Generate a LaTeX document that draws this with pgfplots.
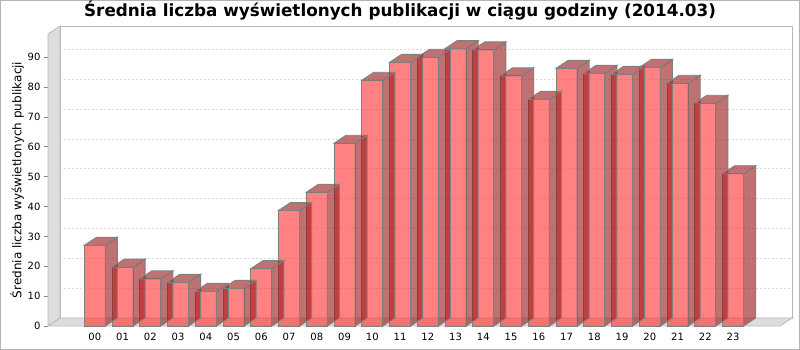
\documentclass[border=0pt]{standalone}
\usepackage{fontspec}
\setmainfont{DejaVu Sans}
\usepackage{pgfplots}
\usepackage{pgfplotstable}
\pgfplotsset{compat=1.18}
\definecolor{frontc}{RGB}{255,45,45}
\definecolor{sidec}{RGB}{150,20,20}
\definecolor{edgec}{RGB}{128,128,128}
\definecolor{wallc}{RGB}{221,221,221}
\definecolor{walledge}{RGB}{185,185,185}
\definecolor{gridc}{RGB}{218,218,218}
\definecolor{framec}{RGB}{180,180,180}

\pgfdeclareplotmark{box3d}{%
  \pgfsetfillopacity{0.6}%
  \pgfsetfillcolor{sidec}%
  \pgfsetstrokecolor{edgec}%
  \pgfsetlinewidth{0.9pt}%
  \pgfpathmoveto{\pgfqpoint{-10.5pt}{0pt}}%
  \pgfpathlineto{\pgfqpoint{10.5pt}{0pt}}%
  \pgfpathlineto{\pgfqpoint{22.5pt}{8pt}}%
  \pgfpathlineto{\pgfqpoint{1.5pt}{8pt}}%
  \pgfpathclose
  \pgfusepath{fill,stroke}%
  \pgfpathmoveto{\pgfqpoint{10.5pt}{0pt}}%
  \pgfpathlineto{\pgfqpoint{22.5pt}{8pt}}%
  \pgfpathlineto{\pgfpoint{22.5pt}{8pt-\pgfplotspointmetatransformed*2.9856pt}}%
  \pgfpathlineto{\pgfpoint{10.5pt}{-\pgfplotspointmetatransformed*2.9856pt}}%
  \pgfpathclose
  \pgfusepath{fill,stroke}%
}

\pgfplotstableread{
x v
0 27.0
1 19.7
2 15.8
3 14.6
4 11.6
5 12.6
6 19.2
7 38.7
8 44.8
9 61.2
10 82.3
11 88.3
12 90.0
13 92.9
14 92.5
15 83.8
16 75.9
17 86.3
18 84.6
19 84.3
20 86.6
21 81.3
22 74.6
23 51.0
}\datatable

\begin{document}
\begin{tikzpicture}
\useasboundingbox (0,0) rectangle (800pt,350pt);
\draw[framec, line width=1pt] (0.5pt,0.5pt) rectangle (799.5pt,349.5pt);
\begin{axis}[
  at={(48pt,24pt)}, anchor=south west,
  x=27.75pt, y=2.9856pt,
  xmin=-1.688, xmax=24.69, ymin=0, ymax=97.8,
  clip=false,
  axis line style={draw=none},
  xtick={0,...,23},
  xticklabels={00,01,02,03,04,05,06,07,08,09,10,11,12,13,14,15,16,17,18,19,20,21,22,23},
  x tick style={draw=none},
  ytick={0,10,...,90}, ytick pos=left, tick align=outside,
  major tick length=4pt,
  y tick style={draw=edgec, line width=0.8pt},
  tick label style={font=\fontsize{10}{12}\selectfont},
  /pgf/number format/assume math mode=true,
  point meta min=0, point meta max=1000,
  ylabel={Średnia liczba wyświetlonych publikacji},
  every axis y label/.style={at={(rel axis cs:0,0.5)}, xshift=-31pt, rotate=90, anchor=center, font=\fontsize{12}{14}\selectfont},
]
\fill[white, draw=walledge, line width=0.8pt] ([shift={(12pt,8pt)}]rel axis cs:0,0) rectangle ([shift={(12pt,8pt)}]rel axis cs:1,1);
\pgfplotsinvokeforeach{10,20,...,90}{
  \draw[gridc, line width=0.6pt, dash pattern=on 2pt off 2pt] ([shift={(12pt,8pt)}]axis cs:-1.688,#1) -- ([shift={(12pt,8pt)}]axis cs:24.69,#1);
}
\filldraw[fill=wallc, draw=walledge, line width=0.8pt] (rel axis cs:0,0) -- ([shift={(12pt,8pt)}]rel axis cs:0,0) -- ([shift={(12pt,8pt)}]rel axis cs:0,1) -- (rel axis cs:0,1) -- cycle;
\filldraw[fill=wallc, draw=walledge, line width=0.8pt] (rel axis cs:0,0) -- ([shift={(12pt,8pt)}]rel axis cs:0,0) -- ([shift={(12pt,8pt)}]rel axis cs:1,0) -- (rel axis cs:1,0) -- cycle;
\addplot[scatter, only marks, mark=box3d, point meta=\thisrow{v}]
  table[x=x, y=v] {\datatable};
\addplot[ybar, bar width=21pt, fill=frontc, fill opacity=0.6, draw=edgec, line width=0.9pt]
  table[x=x, y=v] {\datatable};
\end{axis}
\node[anchor=base, font=\bfseries\fontsize{16.8}{20}\selectfont] at (400pt,333pt) {Średnia liczba wyświetlonych publikacji w ciągu godziny (2014.03)};
\end{tikzpicture}
\end{document}
